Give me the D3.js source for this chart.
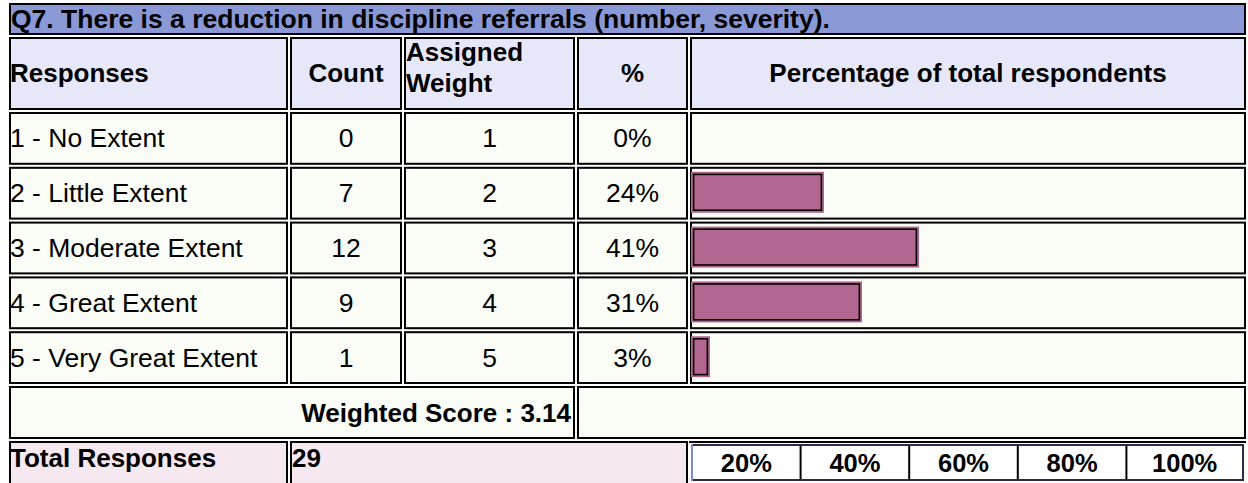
<!DOCTYPE html>
<html>
<head>
<meta charset="utf-8">
<script src="https://cdn.jsdelivr.net/npm/d3@7"></script>
<style>
  body { margin: 0; background: #fff; }
  svg { display: block; }
  text { font-family: "Liberation Sans", Arial, sans-serif; fill: #000; }
</style>
</head>
<body>
<div id="chart"></div>
<script>
// chart data
var title = "Q7. There is a reduction in discipline referrals (number, severity).";
var headers = ["Responses", "Count", "Assigned", "Weight", "%", "Percentage of total respondents"];
var responses = ["1 - No Extent", "2 - Little Extent", "3 - Moderate Extent", "4 - Great Extent", "5 - Very Great Extent"];
var counts = [0, 7, 12, 9, 1];
var weights = [1, 2, 3, 4, 5];
var pctLabels = ["0%", "24%", "41%", "31%", "3%"];
var totalResponses = 29;
var weightedScore = "3.14";
var tickValues = [20, 40, 60, 80, 100];
var tickLabels = ["20%", "40%", "60%", "80%", "100%"];

var W = 1248, H = 483;

// column edges of the table (left, right)
var cols = [[9, 288], [290, 402], [404, 575], [577, 688], [690, 1246]];
var colors = {
  title: "#8a99d6",
  head: "#e6e8fa",
  row: "#fafcf6",
  total: "#f5e8f0",
  bar: "#b3668f"
};

var svg = d3.select("#chart").append("svg")
    .attr("width", W)
    .attr("height", H);

function cell(x0, x1, y0, y1, fill) {
  svg.append("rect")
      .attr("x", x0 + 1).attr("y", y0 + 1)
      .attr("width", x1 - x0 - 2).attr("height", y1 - y0 - 2)
      .attr("fill", fill)
      .attr("stroke", "#000")
      .attr("stroke-width", 2);
}
function mid(c) { return (c[0] + c[1]) / 2; }
function label(x, y, txt, size, bold, anchor) {
  return svg.append("text")
      .attr("x", x).attr("y", y)
      .attr("text-anchor", anchor || "start")
      .style("font-size", size + "px")
      .style("font-weight", bold ? "bold" : "normal")
      .text(txt);
}

// scales
var y = d3.scaleBand()
    .domain(responses)
    .range([112, 386]);

var x = d3.scaleLinear()
    .domain([0, 100])
    .range([691, 1242]);

var axisX = d3.scaleLinear()
    .domain([0, 100])
    .range([692, 1235]);

var tfs = 26.5, hfs = 26, dfs = 26.5, afs = 25.5;

// title
cell(9, 1246, 3, 35, colors.title);
label(11, 28, title, tfs, true);

// header row
cols.forEach(function(c) { cell(c[0], c[1], 37, 110, colors.head); });
label(10, 82, headers[0], hfs, true);
label(mid(cols[1]), 82, headers[1], hfs, true, "middle");
label(406, 61, headers[2], hfs, true);
label(406, 92, headers[3], hfs, true);
label(mid(cols[3]), 82, headers[4], hfs, true, "middle");
label(mid(cols[4]), 82, headers[5], hfs, true, "middle");

// data rows
var rows = responses.map(function(r, i) {
  return { response: r, count: counts[i], weight: weights[i], label: pctLabels[i],
           pct: counts[i] / totalResponses * 100 };
});

rows.forEach(function(d) {
  var y0 = y(d.response), y1 = y0 + y.bandwidth() - 2;
  cols.forEach(function(c) { cell(c[0], c[1], y0, y1, colors.row); });
  var base = (y0 + y1) / 2 + dfs * 0.34;
  label(10, base, d.response, dfs, false);
  label(mid(cols[1]), base, d.count, dfs, false, "middle");
  label(mid(cols[2]), base, d.weight, dfs, false, "middle");
  label(mid(cols[3]), base, d.label, dfs, false, "middle");
});

// bars
var bars = svg.selectAll(".bar")
    .data(rows.filter(function(d) { return d.pct > 0; }))
  .enter().append("g")
    .attr("class", "bar");

bars.append("rect")
    .attr("x", x(0))
    .attr("y", function(d) { return y(d.response) + 5; })
    .attr("width", function(d) { return x(d.pct) - x(0); })
    .attr("height", 41)
    .attr("fill", colors.bar);

bars.append("rect")
    .attr("x", x(0) + 2.6)
    .attr("y", function(d) { return y(d.response) + 7.6; })
    .attr("width", function(d) { return x(d.pct) - x(0) - 5.2; })
    .attr("height", 35.8)
    .attr("fill", "none")
    .attr("stroke", "#000")
    .attr("stroke-width", 1.6);

// weighted score row
cell(9, 575, 386, 439, colors.row);
cell(577, 1246, 386, 439, colors.row);
label(571, 421.5, "Weighted Score : " + weightedScore, hfs, true, "end");

// total row
cell(9, 288, 441, 500, colors.total);
cell(290, 688, 441, 500, colors.total);
label(10, 467, "Total Responses", hfs, true);
label(292, 467, totalResponses, hfs, true);

svg.append("rect").attr("x", 690).attr("y", 441).attr("width", 556).attr("height", 60).attr("fill", "#fafcf6");
svg.append("line").attr("x1", 689).attr("x2", 1246).attr("y1", 442).attr("y2", 442)
    .attr("stroke", "#000").attr("stroke-width", 2);

// axis table
var axisG = svg.append("g");
axisG.append("rect")
    .attr("x", 692).attr("y", 445)
    .attr("width", 551).attr("height", 35)
    .attr("fill", "#fff")
    .attr("stroke", "#2c2c48").attr("stroke-width", 2);
axisG.append("line")
    .attr("x1", 692).attr("x2", 692).attr("y1", 444).attr("y2", 481)
    .attr("stroke", "#7b8bd0").attr("stroke-width", 2);

var edges = [axisX(0)].concat(tickValues.slice(0, -1).map(axisX)).concat([1243]);
axisG.selectAll(".sep")
    .data(tickValues.slice(0, -1))
  .enter().append("line")
    .attr("class", "sep")
    .attr("x1", function(d) { return axisX(d); })
    .attr("x2", function(d) { return axisX(d); })
    .attr("y1", 446).attr("y2", 479)
    .attr("stroke", "#000").attr("stroke-width", 2);

axisG.selectAll(".tick")
    .data(tickLabels)
  .enter().append("text")
    .attr("class", "tick")
    .attr("x", function(d, i) { return (edges[i] + edges[i + 1]) / 2; })
    .attr("y", 471.5)
    .attr("text-anchor", "middle")
    .style("font-size", afs + "px").style("font-weight", "bold")
    .text(function(d) { return d; });
</script>
</body>
</html>
